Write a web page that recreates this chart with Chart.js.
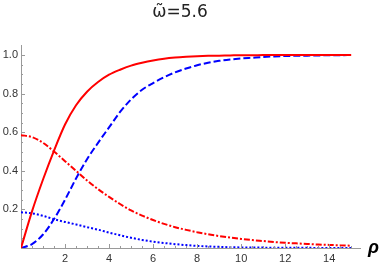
<!DOCTYPE html>
<html lang="en">
<head>
    <meta charset="UTF-8">
    <title>omega 5.6</title>
    <script src="https://cdn.jsdelivr.net/npm/chart.js"></script>
    <style>
        * { margin: 0; padding: 0; box-sizing: border-box; }
        body { background: #ffffff; width: 382px; height: 266px; overflow: hidden; }
        .chart-box { position: relative; width: 382px; height: 266px; }
    </style>
</head>
<body>
    <div class="chart-box">
        <canvas id="fieldChart"></canvas>
    </div>

    <script>
        // radial coordinate rho
        const rho = [0, 0.5, 1, 1.5, 2, 2.5, 3, 3.5, 4, 4.5, 5, 5.5, 6, 6.5, 7, 7.5,
                     8, 8.5, 9, 9.5, 10, 10.5, 11, 11.5, 12, 12.5, 13, 13.5, 14, 14.5, 15];

        // red solid
        const fSolid = [0, 0.19, 0.355, 0.505, 0.64, 0.74, 0.81, 0.86, 0.898, 0.924, 0.945, 0.96,
                        0.972, 0.981, 0.987, 0.991, 0.994, 0.996, 0.997, 0.998, 0.999, 0.999, 1, 1,
                        1, 1, 1, 1, 1, 1, 1];
        // blue dashed
        const gDashed = [0, 0.02, 0.07, 0.15, 0.25, 0.36, 0.46, 0.545, 0.625, 0.705, 0.77, 0.82,
                         0.855, 0.885, 0.91, 0.93, 0.947, 0.96, 0.97, 0.977, 0.982, 0.986, 0.99, 0.993,
                         0.995, 0.996, 0.997, 0.998, 0.999, 0.999, 1];
        // red dot-dashed
        const hDotDash = [0.585, 0.575, 0.545, 0.5, 0.45, 0.4, 0.35, 0.305, 0.265, 0.228, 0.195, 0.168,
                          0.145, 0.125, 0.108, 0.094, 0.082, 0.071, 0.062, 0.054, 0.047, 0.041, 0.036, 0.031,
                          0.027, 0.024, 0.021, 0.018, 0.016, 0.014, 0.012];
        // blue dotted
        const kDotted = [0.185, 0.18, 0.167, 0.149, 0.135, 0.122, 0.108, 0.095, 0.08, 0.066, 0.053, 0.042,
                         0.033, 0.026, 0.02, 0.015, 0.011, 0.008, 0.006, 0.004, 0.003, 0.002, 0.002, 0.001,
                         0.001, 0.001, 0.001, 0, 0, 0, 0];

        const xTickLabels = [2, 4, 6, 8, 10, 12, 14];
        const yTickLabels = [0.2, 0.4, 0.6, 0.8, 1.0];

        function isLabel(list, v) {
            return list.some(t => Math.abs(t - v) < 1e-6);
        }

        function series(values, color, dash) {
            return {
                data: rho.map((r, i) => ({ x: r, y: values[i] })),
                borderColor: color,
                borderWidth: 2,
                borderDash: dash,
                pointRadius: 0,
                fill: false,
                cubicInterpolationMode: 'monotone'
            };
        }

        // Mathematica style ticks pointing into the plot, plus the rho axis label
        const axisDecor = {
            id: 'axisDecor',
            afterDraw(chart) {
                const { ctx, scales: { x, y } } = chart;
                const y0 = y.getPixelForValue(0);
                const x0 = x.getPixelForValue(0);
                ctx.save();
                ctx.strokeStyle = '#9a9a9a';
                ctx.lineWidth = 1;
                x.ticks.forEach(t => {
                    if (t.value <= 0 || t.value > 15.01) return;
                    const px = Math.round(x.getPixelForValue(t.value)) + 0.5;
                    const len = isLabel(xTickLabels, t.value) ? 4 : 2;
                    ctx.beginPath();
                    ctx.moveTo(px, y0);
                    ctx.lineTo(px, y0 - len);
                    ctx.stroke();
                });
                y.ticks.forEach(t => {
                    if (t.value <= 0 || t.value > 1.001) return;
                    const py = Math.round(y.getPixelForValue(t.value)) + 0.5;
                    const len = isLabel(yTickLabels, t.value) ? 4 : 2;
                    ctx.beginPath();
                    ctx.moveTo(x0, py);
                    ctx.lineTo(x0 + len, py);
                    ctx.stroke();
                });
                ctx.fillStyle = '#000000';
                ctx.font = 'italic bold 18px "Liberation Sans", Arial, sans-serif';
                ctx.textAlign = 'left';
                ctx.textBaseline = 'alphabetic';
                ctx.fillText('ρ', x.right + 8, y0 + 5);
                ctx.restore();
            }
        };

        new Chart(document.getElementById('fieldChart').getContext('2d'), {
            type: 'line',
            data: {
                datasets: [
                    series(fSolid, '#ff0000', []),
                    series(gDashed, '#0000ff', [7, 3]),
                    series(hDotDash, '#ff0000', [6, 2, 2, 2]),
                    series(kDotted, '#0000ff', [2, 2])
                ]
            },
            options: {
                responsive: true,
                maintainAspectRatio: false,
                animation: false,
                layout: { padding: { top: 0, right: 22, bottom: 0, left: 0 } },
                plugins: {
                    legend: { display: false },
                    tooltip: { enabled: false },
                    title: {
                        display: true,
                        text: 'ω̃=5.6',
                        color: '#222222',
                        font: { family: '"DejaVu Sans", sans-serif', size: 17, weight: 'normal' },
                        padding: { top: 2, bottom: 23 }
                    }
                },
                scales: {
                    x: {
                        type: 'linear',
                        min: 0,
                        max: 15.4,
                        afterFit: s => { s.height = 18; },
                        grid: { display: false, drawTicks: false },
                        border: { display: true, color: '#9a9a9a', width: 1 },
                        ticks: {
                            stepSize: 0.5,
                            autoSkip: false,
                            includeBounds: false,
                            maxRotation: 0,
                            padding: 4,
                            color: '#333333',
                            font: { family: '"Liberation Sans", Arial, sans-serif', size: 11 },
                            callback: v => isLabel(xTickLabels, v) ? String(v) : ''
                        }
                    },
                    y: {
                        min: 0,
                        max: 1.05,
                        afterFit: s => { s.width = 21; },
                        grid: { display: false, drawTicks: false },
                        border: { display: true, color: '#9a9a9a', width: 1 },
                        ticks: {
                            stepSize: 0.05,
                            autoSkip: false,
                            includeBounds: false,
                            padding: 3,
                            color: '#333333',
                            font: { family: '"Liberation Sans", Arial, sans-serif', size: 11 },
                            callback: v => isLabel(yTickLabels, v) ? v.toFixed(1) : ''
                        }
                    }
                }
            },
            plugins: [axisDecor]
        });
    </script>
</body>
</html>
